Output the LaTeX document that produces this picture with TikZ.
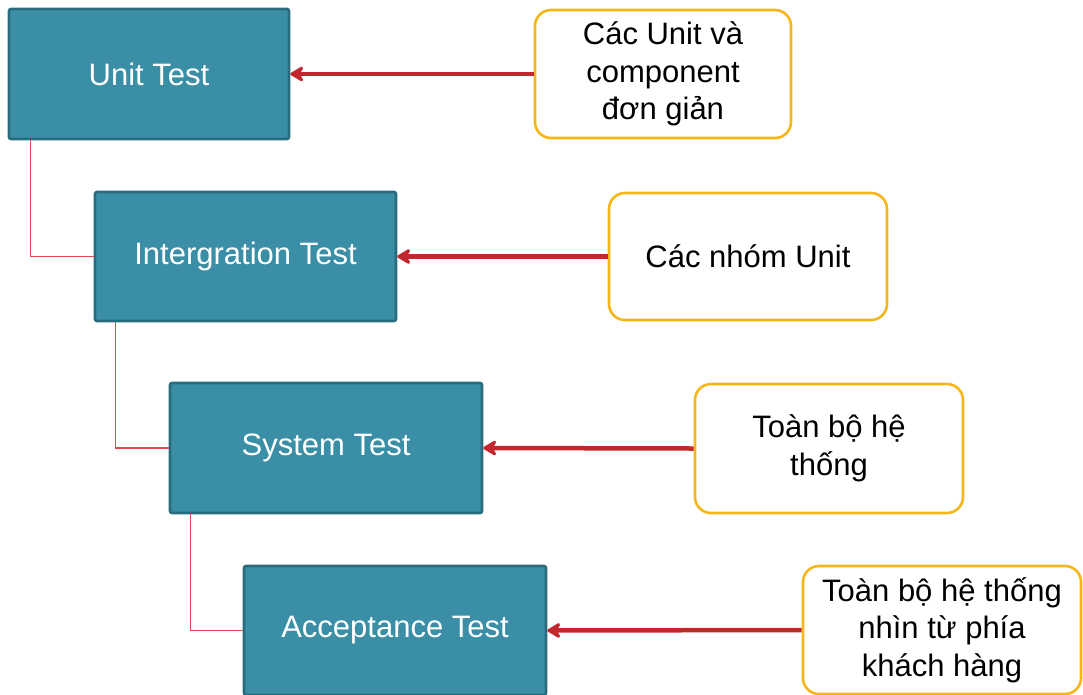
\documentclass[tikz,border=0pt]{standalone}
\usepackage{fontspec}
\setmainfont{Liberation Sans}
\usetikzlibrary{arrows.meta,calc}
\definecolor{tealfill}{HTML}{3A8EA5}
\definecolor{tealborder}{HTML}{286C7E}
\definecolor{arrowred}{HTML}{C1272D}
\definecolor{linkred}{HTML}{E04B4B}
\definecolor{goldborder}{HTML}{F6B61A}
\tikzset{
  testbox/.style={draw=tealborder, line width=2.6pt, fill=tealfill, rounded corners=2pt,
    text=white, font=\fontsize{31}{37}\selectfont, inner sep=0pt},
  scopebox/.style={draw=goldborder, line width=2.6pt, fill=white, rounded corners=16pt,
    text=black, font=\fontsize{31}{37.5}\selectfont, align=center, inner sep=0pt},
  feed/.style={draw=arrowred, line width=4.5pt,
    -{Stealth[length=16pt,width=19pt,inset=5pt,round]}},
  link/.style={draw=linkred, line width=1.1pt},
}
\begin{document}
\begin{tikzpicture}[x=1pt,y=-1pt]
\clip (0,0) rectangle (1083,694);
\fill[white] (0,0) rectangle (1083,694);
\node[testbox, minimum width=280pt, minimum height=130pt] (u) at (149,74) {Unit Test};
\node[testbox, minimum width=301pt, minimum height=129pt] (i) at (245.5,256.5) {Intergration Test};
\node[testbox, minimum width=312pt, minimum height=130pt] (s) at (326,448) {System Test};
\node[testbox, minimum width=302pt, minimum height=129pt] (a) at (395,630.5) {Acceptance Test};
\node[scopebox, minimum width=256pt, minimum height=128pt] (r1) at (663,74) {Các Unit và\\component\\đơn giản};
\node[scopebox, minimum width=278pt, minimum height=127pt] (r2) at (748,256.5) {Các nhóm Unit};
\node[scopebox, minimum width=268pt, minimum height=129pt] (r3) at (829,448.5) {Toàn bộ hệ\\thống};
\node[scopebox, minimum width=278pt, minimum height=128pt] (r4) at (942,630) {Toàn bộ hệ thống\\nhìn từ phía\\khách hàng};
\draw[link] ($(u.south west)+(23,0)$) |- (i.west);
\draw[link] ($(i.south west)+(22,0)$) |- (s.west);
\draw[link] ($(s.south west)+(22,0)$) |- (a.west);
\draw[feed] (r1.west) -- (u.east);
\draw[feed] (r2.west) -- (i.east);
\draw[feed] (r3.west) -- (s.east);
\draw[feed] (r4.west) -- (a.east);
\end{tikzpicture}
\end{document}
